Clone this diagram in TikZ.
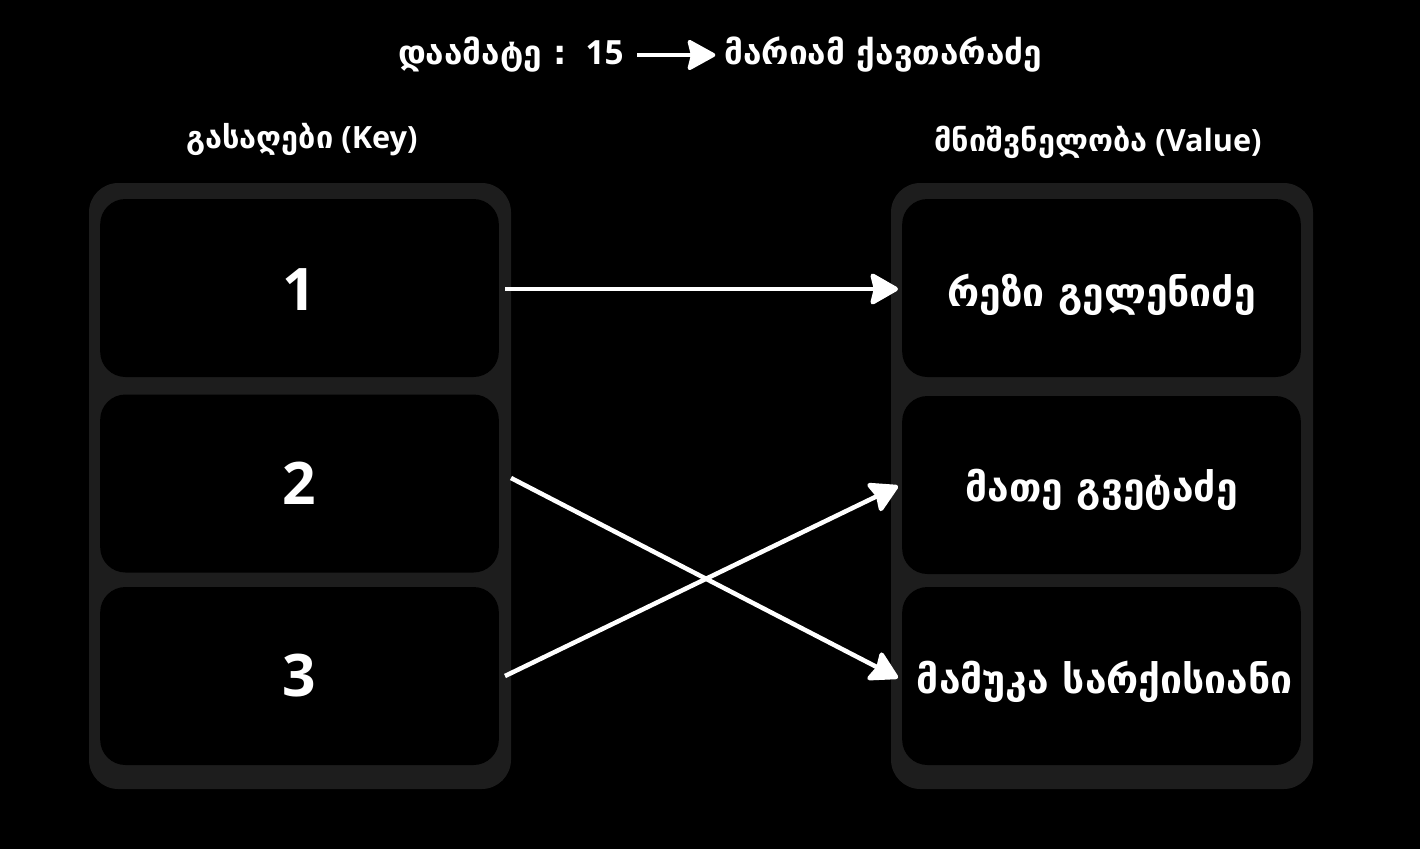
\documentclass[tikz,border=0pt]{standalone}
\usepackage{fontspec}
\setmainfont{Open Sans}
\newfontfamily\geo{DejaVu Sans}
\usetikzlibrary{arrows.meta}
\definecolor{panelgray}{HTML}{1D1D1D}
\newcommand\vlow[2]{\raisebox{#1}[\height][\depth]{#2}}
\tikzset{
  panel/.style={fill=panelgray, rounded corners=22pt, minimum width=316.5pt, minimum height=454.5pt, inner sep=0pt},
  cell/.style={fill=black, rounded corners=19pt, minimum width=299pt, minimum height=133.5pt, inner sep=0pt, text=white},
  keytext/.style={font=\bfseries\fontsize{44}{48}\selectfont},
  valtext/.style={font=\geo\bfseries\fontsize{29.3}{34}\selectfont},
  headtext/.style={text=white, font=\bfseries\fontsize{23}{28}\selectfont, inner sep=0pt},
  titletext/.style={text=white, font=\bfseries\fontsize{25}{30}\selectfont, inner sep=0pt},
  link/.style={draw=white, line width=3.4pt, -{Stealth[length=23pt, width=26pt, inset=3pt, round]}},
  titlearrow/.style={draw=white, line width=3pt, -{Stealth[length=23pt, width=25pt, inset=3pt, round]}}
}
\begin{document}
\begin{tikzpicture}[x=0.75pt, y=-0.75pt]
\fill[black] (0,0) rectangle (1420,849);
\useasboundingbox (0,0) rectangle (1420,849);
% panels
\node[panel] (kp) at (300,486) {};
\node[panel] (vp) at (1102,486) {};
% key cells
\node[cell, keytext] (k1) at (299.5,288) {\vlow{-1.5pt}{1}};
\node[cell, keytext] (k2) at (299.5,483.5) {2};
\node[cell, keytext] (k3) at (299.5,676) {3};
% value cells
\node[cell, valtext] (v1) at (1101.5,288) {\vlow{-5pt}{რეზი გელენიძე}};
\node[cell, valtext] (v2) at (1101.5,485) {\vlow{-4pt}{მათე გვეტაძე}};
\node[cell, valtext] (v3) at (1101.5,676) {\vlow{-4pt}{\hspace*{5pt}მამუკა სარქისიანი}};
% headers
\node[headtext] (hk) at (302,140) {{\geo გასაღები} (Key)};
\node[headtext] (hv) at (1098,142) {{\geo მნიშვნელობა} (Value)};
% title
\node[titletext, anchor=east] (t1) at (624,55) {{\geo დაამატე :}\hspace{14pt}15};
\node[titletext, anchor=west] (t2) at (724,55) {\geo მარიამ ქავთარაძე};
\draw[titlearrow, shorten >=6.5pt] (t1.east) ++(13,0) coordinate (ta) -- (ta -| t2.west);
% connectors
\coordinate (s1) at (505,289);
\coordinate (e1) at (898,289);
\coordinate (s2) at (511,478);
\coordinate (e2) at (898,678);
\coordinate (s3) at (505,676);
\coordinate (e3) at (898,486);
\draw[link] (s1) -- (e1);
\draw[link] (s2) -- (e2);
\draw[link] (s3) -- (e3);
\end{tikzpicture}
\end{document}
